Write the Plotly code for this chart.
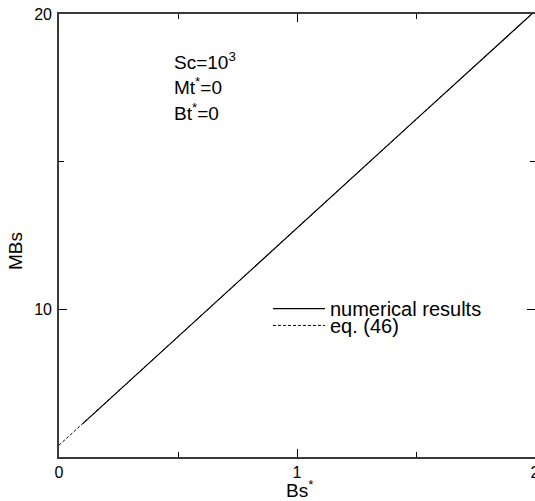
import plotly.graph_objects as go

# Data
num_x = [0.1, 0.5, 1.0, 1.5, 2.0]
num_y = [6.13, 9.08, 12.75, 16.43, 20.1]
eq_x = [0.0, 2.0]
eq_y = [5.4, 20.1]

x_ticks = [0, 1, 2]
x_ticktext = ["0", "1", "2"]
y_ticks = [10, 20]
y_ticktext = ["10", "20"]

FONT = "Liberation Sans, Arial, Helvetica, sans-serif"
AX = "#3a3a3a"

fig = go.Figure()
fig.add_trace(go.Scatter(x=eq_x, y=eq_y, mode="lines", name="eq. (46)",
                         line=dict(color="black", width=1, dash="3px,2px"),
                         legend="legend2", yaxis="y2"))
fig.add_trace(go.Scatter(x=num_x, y=num_y, mode="lines", name="numerical results",
                         line=dict(color="black", width=1.2), legend="legend"))

common_x = dict(range=[0, 2], showgrid=False, zeroline=False, showline=True,
                linecolor=AX, linewidth=1.6, ticks="inside", ticklen=8, tickwidth=1.2,
                tickcolor="black", tickvals=x_ticks, ticktext=x_ticktext,
                tickfont=dict(size=16, color="black", family=FONT),
                ticklabeloverflow="allow", automargin=False,
                minor=dict(dtick=0.5, tick0=0, ticks="inside", ticklen=5, tickwidth=1.2,
                           tickcolor="black", showgrid=False))

fig.update_layout(
    width=535, height=501,
    margin=dict(l=59, r=0, t=14, b=44),
    plot_bgcolor="white", paper_bgcolor="white",
    font=dict(family=FONT, color="black"),
    xaxis=dict(**common_x, mirror="ticks"),
    yaxis=dict(range=[5, 20], showgrid=False, zeroline=False, showline=True,
               linecolor=AX, linewidth=1.6, ticks="inside", ticklen=8, tickwidth=1.2,
               tickcolor="black", tickvals=y_ticks, ticktext=y_ticktext, automargin=False,
               tickfont=dict(size=16, color="black", family=FONT), ticklabelstandoff=2,
               minor=dict(dtick=5, tick0=0, ticks="inside", ticklen=5, tickwidth=1.2,
                          tickcolor="black", showgrid=False)),
    yaxis2=dict(range=[5, 20], overlaying="y", side="right", showgrid=False, automargin=False,
                zeroline=False, showline=False, ticks="inside", ticklen=8, tickwidth=1.2,
                tickcolor="black", tickvals=y_ticks, showticklabels=False,
                minor=dict(dtick=5, tick0=0, ticks="inside", ticklen=5, tickwidth=1.2,
                           tickcolor="black", showgrid=False)),
    legend=dict(x=0.439, y=0.335, xanchor="left", yanchor="middle", bgcolor="rgba(0,0,0,0)",
                font=dict(size=20, family=FONT, color="black"), itemwidth=52,
                tracegroupgap=0),
    legend2=dict(x=0.439, y=0.297, xanchor="left", yanchor="middle", bgcolor="rgba(0,0,0,0)",
                 font=dict(size=20, family=FONT, color="black"), itemwidth=52,
                 tracegroupgap=0),
    showlegend=True,
)

ann_font = dict(size=19, family=FONT, color="black")
fig.add_annotation(text="Sc=10<sup>3</sup>", xref="paper", yref="paper", x=0.2368, y=(457 - 61) / 443,
                   xanchor="left", yanchor="middle", showarrow=False, font=ann_font)
fig.add_annotation(text="Mt<sup>*</sup>=0", xref="paper", yref="paper", x=0.2368, y=(457 - 86) / 443,
                   xanchor="left", yanchor="middle", showarrow=False, font=ann_font)
fig.add_annotation(text="Bt<sup>*</sup>=0", xref="paper", yref="paper", x=0.2368, y=(457 - 112) / 443,
                   xanchor="left", yanchor="middle", showarrow=False, font=ann_font)
fig.add_annotation(text="Bs<sup>*</sup>", xref="paper", yref="paper", x=(299 - 59) / 476, y=-(489 - 457) / 443,
                   xanchor="center", yanchor="middle", showarrow=False, font=ann_font)
fig.add_annotation(text="MBs", xref="paper", yref="paper", x=(15 - 59) / 476, y=(457 - 251) / 443,
                   xanchor="center", yanchor="middle", textangle=-90, showarrow=False, font=ann_font)

fig.write_html("out.html", config={"displayModeBar": False},
               post_script="document.body.style.margin='0';document.body.style.overflow='hidden';")
